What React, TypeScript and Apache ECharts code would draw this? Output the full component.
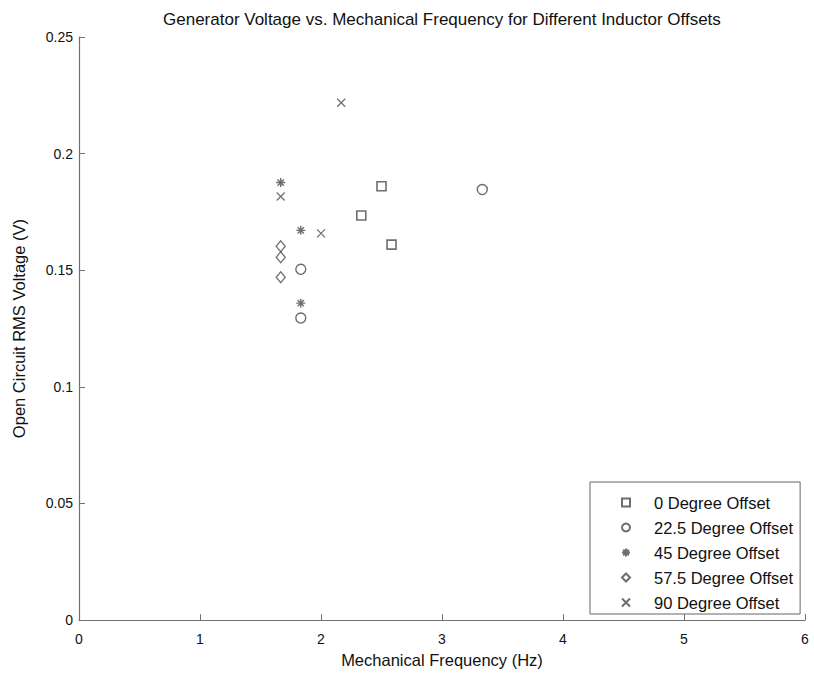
import React, { useEffect, useRef } from "react";
import * as echarts from "echarts";

const seriesNames = [
  "0 Degree Offset",
  "22.5 Degree Offset",
  "45 Degree Offset",
  "57.5 Degree Offset",
  "90 Degree Offset",
];

const deg0X = [2.5, 2.333, 2.583];
const deg0Y = [0.186, 0.1735, 0.161];
const deg22X = [3.333, 1.833, 1.833];
const deg22Y = [0.1846, 0.1504, 0.1295];
const deg45X = [1.667, 1.833, 1.833];
const deg45Y = [0.1876, 0.1671, 0.1359];
const deg57X = [1.667, 1.667, 1.667];
const deg57Y = [0.1603, 0.1556, 0.147];
const deg90X = [2.167, 1.667, 2.0];
const deg90Y = [0.2218, 0.1816, 0.1658];

const xTicks = [0, 1, 2, 3, 4, 5, 6];
const yTicks = [0, 0.05, 0.1, 0.15, 0.2, 0.25];

const FONT = '"Liberation Sans", Arial, Helvetica, sans-serif';
const MARK = "#4a4a4a";

const ASTERISK =
  "path://M5,0L5,10M0,5L10,5M1.5,1.5L8.5,8.5M8.5,1.5L1.5,8.5";
const CROSS = "path://M0,0L10,10M10,0L0,10";

function pairs(xs: number[], ys: number[]) {
  return xs.map((x, i) => [x, ys[i]]);
}

export default function App() {
  const ref = useRef<HTMLDivElement>(null);

  useEffect(() => {
    document.body.style.margin = "0";
    if (!ref.current) return;
    const chart = echarts.init(ref.current, null, { renderer: "svg" });

    const mk = (
      name: string,
      xs: number[],
      ys: number[],
      symbol: string,
      size: number | number[],
      bw: number
    ) => ({
      name,
      type: "scatter",
      data: pairs(xs, ys),
      symbol,
      symbolSize: size,
      itemStyle: {
        color: "rgba(0,0,0,0)",
        borderColor: MARK,
        borderWidth: bw,
      },
      emphasis: { disabled: true },
    });

    chart.setOption({
      animation: false,
      backgroundColor: "#ffffff",
      textStyle: { fontFamily: FONT },
      title: {
        text: "Generator Voltage vs. Mechanical Frequency for Different Inductor Offsets",
        left: 163,
        top: 11,
        padding: 0,
        textStyle: {
          fontFamily: FONT,
          fontSize: 17,
          fontWeight: "normal",
          color: "#111",
        },
      },
      grid: { left: 79, right: 9, top: 37, bottom: 51 },
      legend: {
        orient: "vertical",
        left: 590,
        top: 482,
        data: seriesNames,
        backgroundColor: "#fff",
        borderColor: "#666",
        borderWidth: 1,
        padding: [12, 7, 3, 31],
        itemWidth: 8,
        itemHeight: 8,
        itemGap: 8,
        symbolKeepAspect: true,
        textStyle: {
          fontFamily: FONT,
          fontSize: 16.5,
          lineHeight: 16,
          color: "#111",
          padding: [0, 0, 0, 19],
        },
      },
      xAxis: {
        type: "value",
        min: xTicks[0],
        max: xTicks[xTicks.length - 1],
        interval: 1,
        name: "Mechanical Frequency (Hz)",
        nameLocation: "middle",
        nameGap: 30,
        nameTextStyle: { fontFamily: FONT, fontSize: 16.5, color: "#111" },
        axisLine: { lineStyle: { color: "#707070", width: 1.2 } },
        axisTick: { inside: true, length: 6, lineStyle: { color: "#707070" } },
        axisLabel: { fontFamily: FONT, fontSize: 14, color: "#111", margin: 12 },
        splitLine: { show: false },
      },
      yAxis: {
        type: "value",
        min: yTicks[0],
        max: yTicks[yTicks.length - 1],
        interval: 0.05,
        name: "Open Circuit RMS Voltage (V)",
        nameLocation: "middle",
        nameGap: 52,
        nameTextStyle: { fontFamily: FONT, fontSize: 16.5, color: "#111" },
        axisLine: { lineStyle: { color: "#707070", width: 1.2 } },
        axisTick: { inside: true, length: 6, lineStyle: { color: "#707070" } },
        axisLabel: {
          fontFamily: FONT,
          fontSize: 14,
          color: "#111",
          margin: 6,
          formatter: (v: number) => String(Number(v.toFixed(2))),
        },
        splitLine: { show: false },
      },
      series: [
        mk(seriesNames[0], deg0X, deg0Y, "rect", 9, 1.6),
        mk(seriesNames[1], deg22X, deg22Y, "circle", 10, 1.4),
        mk(seriesNames[2], deg45X, deg45Y, ASTERISK, 9, 1.4),
        mk(seriesNames[3], deg57X, deg57Y, "diamond", [9, 11], 1.3),
        mk(seriesNames[4], deg90X, deg90Y, CROSS, 8, 1.2),
      ],
    });

    return () => chart.dispose();
  }, []);

  return <div ref={ref} style={{ width: 814, height: 673 }} />;
}
